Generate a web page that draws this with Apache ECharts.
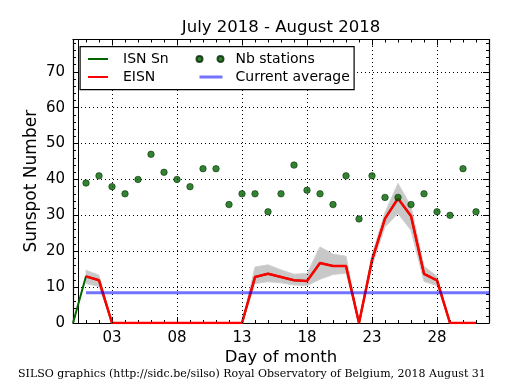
<!DOCTYPE html>
<html>
<head>
<meta charset="utf-8">
<script src="https://cdn.jsdelivr.net/npm/echarts@6/dist/echarts.min.js"></script>
<style>html,body{margin:0;padding:0;background:#fff}#c{width:515px;height:390px}</style>
</head>
<body>
<div id="c"></div>
<script>
// ---- data ----
var days = [1,2,3,4,5,6,7,8,9,10,11,12,13,14,15,16,17,18,19,20,21,22,23,24,25,26,27,28,29,30,31];
var snDays = [0].concat(days);
var sn = [0, 13.0, 11.9, 0,0,0,0,0,0,0,0,0,0,0, 12.8, 13.7, 12.8, 11.9, 11.7, 16.7, 15.9, 15.9, 0, 17.5, 29.1, 34.7, 29.8, 13.7, 11.9, 0, 0, 0];
var eisn = [13.0, 11.9, 0,0,0,0,0,0,0,0,0,0,0, 12.8, 13.7, 12.8, 11.9, 11.7, 16.7, 15.9, 15.9, 0, 17.5, 29.1, 34.7, 29.8, 13.7, 11.9, 0, 0, 0];
var bandLow = [11.0, 10.2, 0,0,0,0,0,0,0,0,0,0,0, 11.0, 11.5, 11.2, 10.6, 10.4, 12.2, 13.5, 13.9, 0, 16.0, 26.8, 30.5, 25.8, 11.6, 10.4, 0, 0, 0];
var bandHigh = [14.7, 13.3, 0,0,0,0,0,0,0,0,0,0,0, 15.6, 16.2, 14.8, 13.6, 13.8, 21.2, 19.2, 18.6, 0, 19.0, 30.8, 38.9, 32.5, 15.8, 13.0, 0, 0, 0];
var nbStations = [39,41,38,36,40,47,42,40,38,43,43,33,36,36,31,36,44,37,36,33,41,29,41,35,35,33,36,31,30,43,31];
var currentAvgDays = [1, 32];
var currentAvg = [8.4, 8.4];
var xTicks = [3, 8, 13, 18, 23, 28];
var xTickLabels = ['03', '08', '13', '18', '23', '28'];

function pairs(xs, ys) { return xs.map(function (x, i) { return [x, ys[i]]; }); }

var FONT = 'DejaVu Sans';
var chart = echarts.init(document.getElementById('c'), null, {renderer: 'canvas'});

function xAxisBase(pos) {
  return {
    type: 'value', min: 0, max: 32, position: pos, interval: 1,
    axisLine: {show: true, onZero: false, lineStyle: {color: '#000', width: 1.2}},
    axisTick: {show: true, inside: true, length: 3, lineStyle: {color: '#000', width: 1}},
    axisLabel: {show: false},
    splitLine: {show: false}
  };
}
function xAxisMajor(pos, labels) {
  return {
    type: 'value', min: 0, max: 32, position: pos,
    axisLine: {show: false, onZero: false},
    axisTick: {show: true, inside: true, length: 6, customValues: xTicks, lineStyle: {color: '#000', width: 1}},
    axisLabel: {show: labels, customValues: xTicks, margin: 8, color: '#000', fontFamily: FONT, fontSize: 15,
      formatter: function (v) { var i = xTicks.indexOf(v); return i >= 0 ? xTickLabels[i] : ''; }},
    splitLine: {show: false}
  };
}
function yAxisBase(pos, labels, name) {
  return {
    type: 'value', min: 0, max: 79, interval: 10, position: pos,
    name: name || '', nameLocation: 'middle', nameGap: 33, nameMoveOverlap: false,
    nameTextStyle: {color: '#000', fontFamily: FONT, fontSize: 17},
    axisLine: {show: true, onZero: false, lineStyle: {color: '#000', width: 1.2}},
    axisTick: {show: true, inside: true, length: 6, lineStyle: {color: '#000', width: 1}},
    minorTick: {show: true, splitNumber: 5, length: 3, lineStyle: {color: '#000', width: 1}},
    axisLabel: {show: labels, color: '#000', fontFamily: FONT, fontSize: 15, margin: 8, showMaxLabel: false},
    splitLine: {show: labels, lineStyle: {color: '#000', type: [1, 3], width: 1}}
  };
}

var option = {
  animation: false,
  backgroundColor: '#fff',
  title: {
    text: 'July 2018 - August 2018', left: 281, top: 19, textAlign: 'center', padding: 0,
    textStyle: {fontFamily: FONT, fontSize: 16.5, fontWeight: 'normal', color: '#000'}
  },
  grid: {left: 73, right: 26, top: 39.5, bottom: 67, containLabel: false},
  xAxis: [
    xAxisBase('bottom'),
    xAxisMajor('bottom', true),
    xAxisBase('top'),
    xAxisMajor('top', false)
  ],
  yAxis: [
    yAxisBase('left', true, 'Sunspot Number'),
    yAxisBase('right', false),
    {type: 'value', min: 0, max: 79, position: 'left', offset: -5,
     axisLine: {show: true, onZero: false, lineStyle: {color: '#000', width: 1}},
     axisTick: {show: false}, axisLabel: {show: false}, splitLine: {show: false}}
  ],
  legend: [
    {
      left: 88, top: 52, padding: 0, orient: 'vertical', itemGap: 4, itemWidth: 20, itemHeight: 12, z: 20,
      textStyle: {fontFamily: FONT, fontSize: 14, color: '#000', padding: [0, 0, 0, 10]},
      data: [
        {name: 'ISN Sn', icon: 'path://M0,5L20,5L20,7L0,7ZM0,0L0.01,0ZM20,12L20.01,12Z'},
        {name: 'EISN', icon: 'path://M0,5L20,5L20,7L0,7ZM0,0L0.01,0ZM20,12L20.01,12Z'}
      ],
      selectedMode: false
    },
    {
      left: 195.5, top: 52, padding: 0, orient: 'vertical', itemGap: 4, itemWidth: 27, itemHeight: 12, z: 20,
      textStyle: {fontFamily: FONT, fontSize: 14, color: '#000', padding: [0, 0, 0, 7]},
      data: [
        {name: 'Nb stations', icon: 'path://M0,6a3,3 0 1,0 6,0a3,3 0 1,0 -6,0ZM21,6a3,3 0 1,0 6,0a3,3 0 1,0 -6,0ZM0,0L0.01,0ZM27,12L27.01,12Z'},
        {name: 'Current average', icon: 'path://M3,4.5L26,4.5L26,7.5L3,7.5ZM0,0L0.01,0ZM27,12L27.01,12Z'}
      ],
      selectedMode: false
    }
  ],
  graphic: [
    {type: 'rect', left: 79.5, top: 46, shape: {width: 274, height: 43}, z: 15,
     style: {fill: '#fff', stroke: '#000', lineWidth: 1.2}},
    {type: 'text', x: 281, y: 349,
     style: {text: 'Day of month', fontFamily: FONT, fontSize: 16.5, fill: '#000', textAlign: 'center'}},
    {type: 'text', left: 18, top: 369,
     style: {text: 'SILSO graphics (http://sidc.be/silso) Royal Observatory of Belgium, 2018 August 31',
       fontFamily: 'DejaVu Serif', fontSize: 11, fill: '#000'}}
  ],
  series: [
    {
      name: 'band', type: 'custom', data: [[0, 0]], silent: true, z: 1,
      renderItem: function (params, api) {
        var pts = [];
        for (var i = 0; i < days.length; i++) pts.push(api.coord([days[i], bandHigh[i]]));
        for (var j = days.length - 1; j >= 0; j--) pts.push(api.coord([days[j], bandLow[j]]));
        return {type: 'polygon', shape: {points: pts},
          style: {fill: '#c8c8c8', stroke: '#d0d0d0', lineWidth: 1}};
      },
      markLine: {
        silent: true, symbol: 'none', label: {show: false},
        lineStyle: {color: '#000', type: [1, 3], width: 1},
        data: xTicks.map(function (v) { return {xAxis: v}; })
      }
    },
    {
      name: 'ISN Sn', type: 'line', data: pairs(snDays, sn), symbol: 'none', color: '#006400',
      lineStyle: {color: '#006400', width: 2}, z: 3
    },
    {
      name: 'EISN', type: 'line', data: pairs(days, eisn), symbol: 'none', color: '#ff0000',
      lineStyle: {color: '#ff0000', width: 2.5}, z: 4
    },
    {
      name: 'Nb stations', type: 'scatter', data: pairs(days, nbStations), symbol: 'circle', symbolSize: 6.5,
      color: '#006400', itemStyle: {color: '#006400', borderColor: '#002800', borderWidth: 0.7}, z: 5
    },
    {
      name: 'Current average', type: 'line', data: pairs(currentAvgDays, currentAvg), symbol: 'none',
      color: 'rgba(0,0,255,0.55)', lineStyle: {color: 'rgba(0,0,255,0.55)', width: 3}, z: 6
    }
  ]
};
chart.setOption(option);
</script>
</body>
</html>
